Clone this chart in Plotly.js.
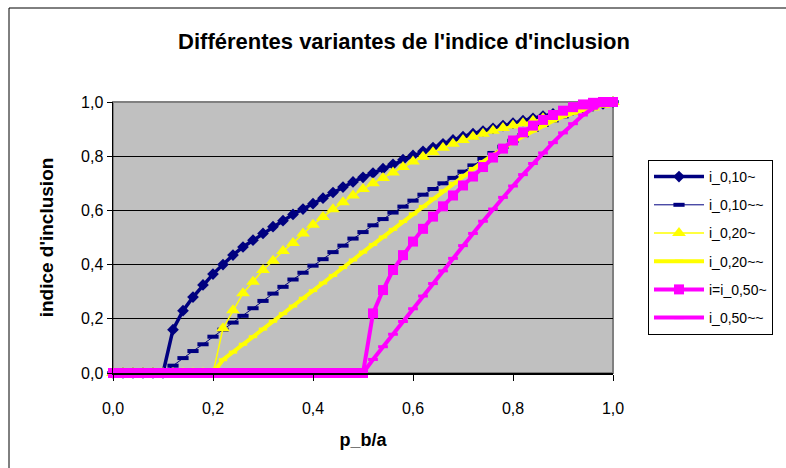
<!DOCTYPE html>
<html>
<head>
<meta charset="utf-8">
<script src="https://cdn.plot.ly/plotly-3.0.1.min.js"></script>
<style>
html,body{margin:0;padding:0;background:#fff;}
#chart{width:786px;height:468px;}
</style>
</head>
<body>
<div id="chart"></div>
<script>
// x values (p_b/a)
var pba = [0,0.02,0.04,0.06,0.08,0.10,0.12,0.14,0.16,0.18,0.20,0.22,0.24,0.26,0.28,0.30,0.32,0.34,0.36,0.38,0.40,0.42,0.44,0.46,0.48,0.50,0.52,0.54,0.56,0.58,0.60,0.62,0.64,0.66,0.68,0.70,0.72,0.74,0.76,0.78,0.80,0.82,0.84,0.86,0.88,0.90,0.92,0.94,0.96,0.98,1.00];

var i010a = [0,0,0,0,0,0,0.16,0.23,0.28,0.325,0.365,0.40,0.435,0.465,0.49,0.515,0.54,0.562,0.585,0.605,0.625,0.645,0.666,0.686,0.705,0.722,0.738,0.754,0.77,0.787,0.803,0.818,0.832,0.846,0.86,0.872,0.883,0.893,0.903,0.913,0.922,0.931,0.94,0.948,0.956,0.963,0.971,0.978,0.986,0.993,1.0];

var i010b = [0,0,0,0,0,0,0.027,0.055,0.081,0.106,0.134,0.16,0.186,0.211,0.239,0.266,0.293,0.318,0.345,0.37,0.396,0.42,0.446,0.47,0.496,0.52,0.545,0.568,0.592,0.614,0.636,0.658,0.679,0.70,0.72,0.743,0.766,0.79,0.812,0.835,0.857,0.877,0.897,0.915,0.932,0.947,0.961,0.973,0.984,0.993,1.0];

var i020a = [0,0,0,0,0,0,0,0,0,0,0,0.165,0.232,0.294,0.337,0.38,0.414,0.45,0.48,0.515,0.547,0.576,0.604,0.63,0.655,0.679,0.70,0.72,0.74,0.76,0.78,0.798,0.815,0.831,0.846,0.86,0.872,0.883,0.894,0.904,0.913,0.922,0.931,0.94,0.948,0.956,0.964,0.972,0.98,0.99,1.0];

var i020b = [0,0,0,0,0,0,0,0,0,0,0,0.049,0.077,0.106,0.134,0.162,0.191,0.219,0.247,0.276,0.304,0.332,0.36,0.389,0.417,0.446,0.474,0.502,0.53,0.559,0.587,0.615,0.643,0.672,0.70,0.728,0.755,0.78,0.805,0.83,0.852,0.873,0.893,0.912,0.93,0.946,0.96,0.973,0.985,0.994,1.0];

var i050a = [0,0,0,0,0,0,0,0,0,0,0,0,0,0,0,0,0,0,0,0,0,0,0,0,0,0,0.22,0.306,0.38,0.435,0.485,0.532,0.577,0.615,0.655,0.692,0.725,0.76,0.795,0.828,0.858,0.888,0.913,0.934,0.952,0.968,0.981,0.991,0.997,1.0,1.0];

var i050b = [0,0,0,0,0,0,0,0,0,0,0,0,0,0,0,0,0,0,0,0,0,0,0,0,0,0,0.05,0.097,0.143,0.19,0.237,0.284,0.33,0.377,0.423,0.47,0.515,0.56,0.605,0.648,0.69,0.732,0.773,0.812,0.85,0.886,0.92,0.952,0.977,0.994,1.0];

var seriesNames = ["i_0,10~","i_0,10~~","i_0,20~","i_0,20~~","i=i_0,50~","i_0,50~~"];
var yTicks = [0,0.2,0.4,0.6,0.8,1.0];
var xTicks = [0,0.2,0.4,0.6,0.8,1.0];

var NAVY = "#000080", YEL = "#FFFF00", MAG = "#FF00FF";
var FONT = "Liberation Sans, Arial, sans-serif";

function tr(y, name, grp, lineW, color, marker){
  return {x: pba, y: y, name: name, type: "scatter", mode: "lines+markers",
    legendgroup: grp, cliponaxis: false,
    line: {color: color, width: lineW}, marker: marker};
}

var traces = [
  tr(i010a, seriesNames[0], "a", 3.5, NAVY, {symbol: "diamond", size: 9, color: NAVY}),
  tr(i010b, seriesNames[1], "b", 1, NAVY, {symbol: "line-ew", size: 8, color: NAVY, line: {color: NAVY, width: 4}}),
  tr(i020a, seriesNames[2], "c", 1.5, YEL, {symbol: "triangle-up", size: 12, color: YEL}),
  tr(i020b, seriesNames[3], "d", 4, YEL, {symbol: "line-ew", size: 6, color: YEL, line: {color: YEL, width: 3}}),
  tr(i050a, seriesNames[4], "e", 4, MAG, {symbol: "square", size: 10, color: MAG}),
  tr(i050b, seriesNames[5], "f", 4, MAG, {symbol: "line-ew", size: 7, color: MAG, line: {color: MAG, width: 3}})
];

var layout = {
  width: 786, height: 468,
  margin: {l: 113, r: 173, t: 102, b: 95, pad: 0},
  paper_bgcolor: "#FFFFFF",
  plot_bgcolor: "#C0C0C0",
  separators: ", ",
  font: {family: FONT, size: 16, color: "#000"},
  title: {text: "<b>Différentes variantes de l'indice d'inclusion</b>",
    font: {family: FONT, size: 22, color: "#000"},
    x: 404/786, xref: "container", xanchor: "center",
    y: 1 - 41/468, yref: "container", yanchor: "middle"},
  xaxis: {range: [0, 1], tickvals: xTicks, tickformat: ".1f",
    showgrid: false, zeroline: false,
    showline: true, linecolor: "#000", linewidth: 1.5,
    ticks: "outside", ticklen: 6, tickcolor: "#000", tickwidth: 1,
    ticklabelstandoff: 14,
    tickfont: {family: FONT, size: 16, color: "#000"},
    title: {text: "<b>p_b/a</b>", font: {family: FONT, size: 18, color: "#000"}, standoff: 17}},
  yaxis: {range: [0, 1], tickvals: yTicks, tickformat: ".1f",
    showgrid: true, gridcolor: "#000", gridwidth: 1, zeroline: false,
    showline: true, linecolor: "#000", linewidth: 1.5,
    ticks: "outside", ticklen: 5, tickcolor: "#000", tickwidth: 1,
    tickfont: {family: FONT, size: 16, color: "#000"},
    title: {text: "<b>indice d'inclusion</b>", font: {family: FONT, size: 19, color: "#000"}, standoff: 22}},
  legend: {x: (648-113)/500, y: (373-160)/271, xanchor: "left", yanchor: "top",
    bgcolor: "#FFFFFF", bordercolor: "#000", borderwidth: 1,
    font: {family: FONT, size: 14, color: "#000"},
    itemwidth: 50,
    traceorder: "grouped", tracegroupgap: 7},
  shapes: [
    {type: "rect", xref: "paper", yref: "paper", x0: 0, x1: 1, y0: 0, y1: 1,
      line: {color: "#808080", width: 2}, layer: "below"},
    {type: "rect", xref: "paper", yref: "paper",
      x0: (9-113)/500, x1: (811-113)/500, y0: (373-480)/271, y1: (373-8)/271,
      line: {color: "#000", width: 1}, layer: "below"}
  ]
};

Plotly.newPlot("chart", traces, layout, {displayModeBar: false, staticPlot: true});
</script>
</body>
</html>
